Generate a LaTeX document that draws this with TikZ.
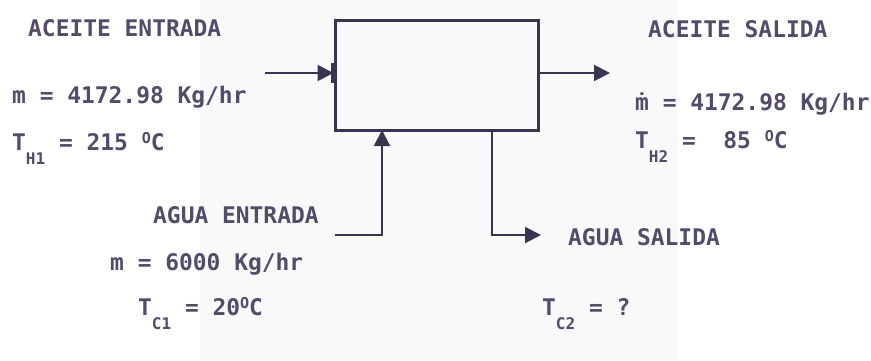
\documentclass[tikz,border=0pt]{standalone}
\usepackage{fontspec}
\newfontfamily\plotfont{DejaVu Sans Mono}[BoldFont={DejaVu Sans Mono Bold}]
\usetikzlibrary{arrows.meta}
\definecolor{ink}{HTML}{3B3450}
\definecolor{txt}{HTML}{534B69}
\definecolor{scan}{HTML}{F9F9FA}
\newcommand\subx[1]{\raisebox{-14pt}{\fontsize{16}{16}\selectfont #1}}
\newcommand\degx{\raisebox{7pt}{\fontsize{15}{15}\selectfont O}}
\tikzset{
  lbl/.style={anchor=base west, inner sep=0pt, text=txt,
    font=\plotfont\bfseries\fontsize{22.9}{24}\selectfont},
  pipe/.style={draw=ink, line width=2pt},
  flow/.style={pipe, -{Triangle[length=16pt,width=16pt]}},
  hxbox/.style={draw=ink, line width=3pt, minimum width=203pt, minimum height=110pt, inner sep=0pt}
}
\begin{document}
\begin{tikzpicture}[x=1pt,y=-1pt]
\useasboundingbox (0,0) rectangle (871,360);
\fill[scan] (200,0) rectangle (678,360);
% exchanger
\node[hxbox] (hx) at (436.5,75) {};
% oil in / out
\coordinate (oilin) at (265,73);
\coordinate (oilout) at (610,73);
\draw[flow] (oilin) -- ([yshift=2pt]hx.west);
\draw[ink, line width=4.5pt] ([yshift=12pt]hx.west) -- ([yshift=-8pt]hx.west);
\draw[flow] ([yshift=2pt]hx.east) -- (oilout);
% water in / out
\coordinate (win0) at (335,235);
\coordinate (win1) at (382,130);
\coordinate (wout0) at (492,130);
\coordinate (wout1) at (541,235);
\draw[flow] (win0) -| (win1);
\draw[flow] (wout0) |- (wout1);
% texts
\node[lbl] (t1) at (28,36) {ACEITE ENTRADA};
\node[lbl] (t2) at (12,103) {m = 4172.98 Kg/hr};
\node[lbl] (t3) at (12,150) {T\subx{H1} = 215 \degx C};
\node[lbl] (t4) at (648,37) {ACEITE SALIDA};
\node[lbl] (t5) at (635,110) {ṁ = 4172.98 Kg/hr};
\node[lbl] (t6) at (635,148) {T\subx{H2} =~~85 \degx C};
\node[lbl] (t7) at (153,223) {AGUA ENTRADA};
\node[lbl] (t8) at (110,270) {m = 6000 Kg/hr};
\node[lbl] (t9) at (138,315) {T\subx{C1} = 20\degx C};
\node[lbl] (t10) at (568,245) {AGUA SALIDA};
\node[lbl] (t11) at (542,315) {T\subx{C2} = ?};
\end{tikzpicture}
\end{document}
